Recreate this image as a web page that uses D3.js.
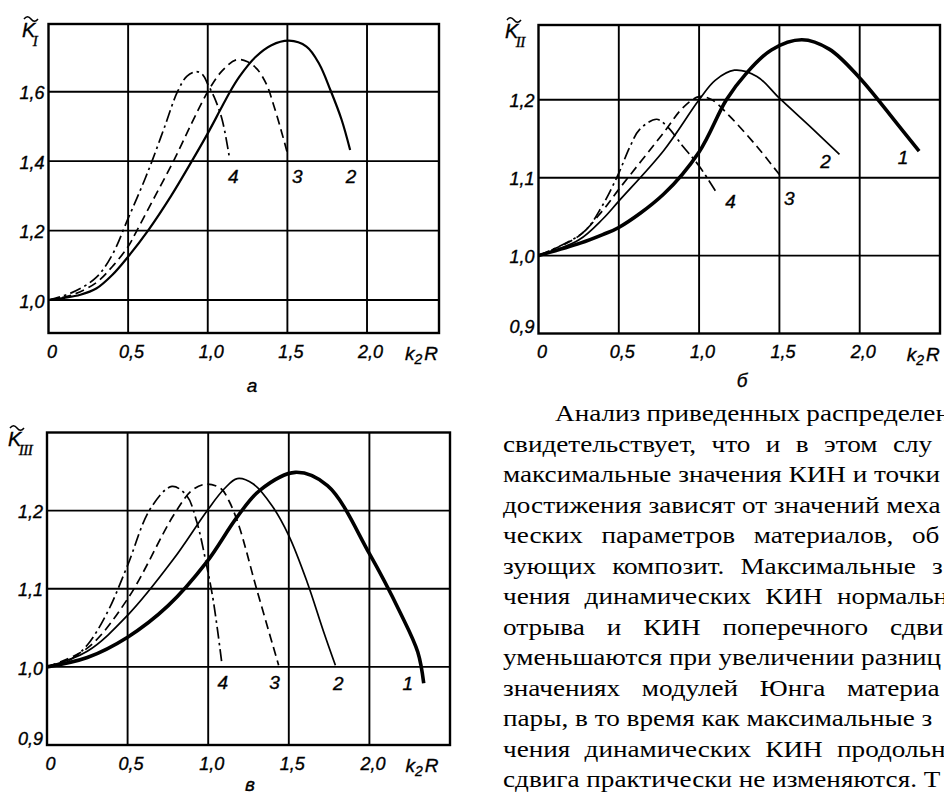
<!DOCTYPE html>
<html>
<head>
<meta charset="utf-8">
<script src="https://cdn.jsdelivr.net/npm/d3@7/dist/d3.min.js"></script>
<style>
  html, body { margin: 0; padding: 0; background: #fff; }
  svg { display: block; }
</style>
</head>
<body>
<svg id="page" width="944" height="794"></svg>
<script>
// ---------- shared axis data ----------
const xTicks = [0, 0.5, 1.0, 1.5, 2.0];
const xTickLabels = ["0", "0,5", "1,0", "1,5", "2,0"];

// ---------- panel а : K_I versus k2R ----------
const kI_yTicks = [1.0, 1.2, 1.4, 1.6];
const kI_yLabels = ["1,0", "1,2", "1,4", "1,6"];
const kI_curve2 = [[0,1.0],[0.1,1.006],[0.2,1.015],[0.3,1.033],[0.4,1.072],[0.5,1.125],[0.625,1.2],[0.77,1.3],[0.9,1.4],[1.0,1.48],[1.078,1.547],[1.14,1.6],[1.2,1.644],[1.3,1.70],[1.4,1.734],[1.51,1.747],[1.62,1.73],[1.7,1.68],[1.77,1.605],[1.84,1.52],[1.894,1.432]];
const kI_curve3 = [[0,1.0],[0.15,1.015],[0.3,1.05],[0.4,1.096],[0.5,1.154],[0.555,1.2],[0.67,1.3],[0.785,1.4],[0.9,1.51],[1.0,1.6],[1.09,1.66],[1.18,1.692],[1.25,1.686],[1.31,1.665],[1.37,1.62],[1.41,1.567],[1.46,1.49],[1.5,1.423]];
const kI_curve4 = [[0,1.0],[0.15,1.022],[0.3,1.065],[0.4,1.13],[0.5,1.235],[0.58,1.32],[0.65,1.4],[0.73,1.5],[0.81,1.6],[0.87,1.645],[0.93,1.658],[0.97,1.648],[1.0,1.622],[1.04,1.585],[1.09,1.52],[1.135,1.413]];

// ---------- panel б : K_II versus k2R ----------
const kII_yTicks = [0.9, 1.0, 1.1, 1.2];
const kII_yLabels = ["0,9", "1,0", "1,1", "1,2"];
const kII_curve1 = [[0,1.0],[0.26,1.016],[0.4,1.027],[0.5,1.036],[0.78,1.079],[1.0,1.133],[1.17,1.2],[1.29,1.233],[1.45,1.264],[1.64,1.277],[1.81,1.265],[2.0,1.228],[2.23,1.17],[2.37,1.134]];
const kII_curve2 = [[0,1.0],[0.25,1.02],[0.4,1.047],[0.5,1.07],[0.78,1.135],[1.0,1.2],[1.1,1.225],[1.22,1.238],[1.36,1.23],[1.5,1.202],[1.71,1.162],[1.874,1.13]];
const kII_curve3 = [[0,1.0],[0.25,1.025],[0.4,1.058],[0.5,1.085],[0.78,1.158],[0.9,1.19],[1.0,1.204],[1.08,1.2],[1.19,1.179],[1.36,1.14],[1.5,1.104]];
const kII_curve4 = [[0,1.0],[0.28,1.03],[0.4,1.065],[0.5,1.106],[0.57,1.14],[0.63,1.162],[0.735,1.175],[0.8,1.166],[0.9,1.14],[1.0,1.115],[1.108,1.081]];

// ---------- panel в : K_III versus k2R ----------
const kIII_yTicks = [0.9, 1.0, 1.1, 1.2];
const kIII_yLabels = ["0,9", "1,0", "1,1", "1,2"];
const kIII_curve1 = [[0,1.0],[0.25,1.012],[0.5,1.038],[0.75,1.078],[0.99,1.134],[1.18,1.192],[1.32,1.226],[1.54,1.249],[1.74,1.232],[2.0,1.145],[2.19,1.07],[2.3,1.019],[2.337,0.979]];
const kIII_curve2 = [[0,1.0],[0.25,1.02],[0.5,1.066],[0.785,1.138],[0.99,1.199],[1.1,1.228],[1.18,1.241],[1.28,1.234],[1.4,1.205],[1.5,1.168],[1.613,1.109],[1.716,1.045],[1.789,1.002]];
const kIII_curve3 = [[0,1.0],[0.25,1.024],[0.5,1.087],[0.785,1.194],[0.9,1.226],[0.99,1.234],[1.08,1.228],[1.13,1.212],[1.19,1.181],[1.3,1.1],[1.437,1.002]];
const kIII_curve4 = [[0,1.0],[0.15,1.01],[0.25,1.028],[0.375,1.07],[0.5,1.13],[0.64,1.202],[0.775,1.231],[0.867,1.219],[0.93,1.185],[0.99,1.13],[1.033,1.083],[1.085,1.004]];

// ---------- body text (lines as printed) ----------
const paragraphLines = [
  ["Анализ", "приведенных", "распределен"],
  ["свидетельствует,", "что", "и", "в", "этом", "слу"],
  ["максимальные значения КИН и точки"],
  ["достижения зависят от значений меха"],
  ["ческих", "параметров", "материалов,", "об"],
  ["зующих", "композит.", "Максимальные", "з"],
  ["чения", "динамических", "КИН", "нормальн"],
  ["отрыва", "и", "КИН", "поперечного", "сдви"],
  ["уменьшаются при увеличении разниц"],
  ["значениях", "модулей", "Юнга", "материа"],
  ["пары, в то время как максимальные з"],
  ["чения", "динамических", "КИН", "продольн"],
  ["сдвига практически не изменяются. Т"]
];

// ---------- drawing styles ----------
const curveStyle = {
  "1": { width: 3.6, dash: null },
  "2": { width: 1.7, dash: null },
  "3": { width: 1.7, dash: "9,5" },
  "4": { width: 1.7, dash: "12,4,2.5,4" }
};
const drawFont = "'Liberation Sans', Arial, sans-serif";
const serifFont = "'Liberation Serif', 'Times New Roman', serif";

const svg = d3.select("#page");

// drafting-style lettering: italic with slightly heavier strokes
function drafting(sel, size) {
  return sel.attr("font-family", drawFont).attr("font-style", "italic")
    .attr("font-size", size).attr("fill", "#000")
    .attr("stroke", "#000").attr("stroke-width", 0.35);
}

function drawPanel(cfg) {
  const x = d3.scaleLinear().domain(cfg.xDomain).range([cfg.box.l, cfg.box.r]);
  const y = d3.scaleLinear().domain(cfg.yDomain).range([cfg.box.b, cfg.box.t]);
  const g = svg.append("g");

  // grid
  g.append("g").selectAll("line").data(xTicks.slice(1)).join("line")
    .attr("x1", d => x(d)).attr("x2", d => x(d))
    .attr("y1", cfg.box.t).attr("y2", cfg.box.b)
    .attr("stroke", "#000").attr("stroke-width", 1.9);
  g.append("g").selectAll("line").data(cfg.yTicks.filter(v => y(v) < cfg.box.b - 3)).join("line")
    .attr("x1", cfg.box.l).attr("x2", cfg.box.r)
    .attr("y1", d => y(d)).attr("y2", d => y(d))
    .attr("stroke", "#000").attr("stroke-width", 1.9);

  // frame
  g.append("rect")
    .attr("x", cfg.box.l).attr("y", cfg.box.t)
    .attr("width", cfg.box.r - cfg.box.l).attr("height", cfg.box.b - cfg.box.t)
    .attr("fill", "none").attr("stroke", "#000").attr("stroke-width", 2.4);

  // x tick labels through a d3 axis with its lines removed
  const xAxis = d3.axisBottom(x).tickValues(xTicks)
    .tickFormat((d, i) => xTickLabels[i]).tickSize(0).tickPadding(0);
  const xa = g.append("g").attr("transform", `translate(3,${cfg.box.b + 12})`).call(xAxis);
  xa.select(".domain").remove();
  drafting(xa.selectAll("text"), 18).attr("dy", "0.71em");

  // y tick labels
  const yAxis = d3.axisLeft(y).tickValues(cfg.yTicks)
    .tickFormat((d, i) => cfg.yLabels[i]).tickSize(0).tickPadding(0);
  const ya = g.append("g").attr("transform", `translate(${cfg.box.l - 4},0)`).call(yAxis);
  ya.select(".domain").remove();
  drafting(ya.selectAll("text"), 18)
    .attr("dy", d => (y(d) > cfg.box.b - 4 ? "-0.05em" : "0.4em"));

  // x axis name k2R
  const xn = drafting(g.append("text"), 19).attr("x", x(2.0) + cfg.k2rDx).attr("y", cfg.box.b + 27);
  xn.append("tspan").text("k");
  xn.append("tspan").attr("font-size", 14).attr("dy", 4).text("2");
  xn.append("tspan").attr("dy", -4).attr("dx", 2).text("R");

  // y axis name: K with a tilde and a roman-numeral subscript
  const t = cfg.title;
  const kt = drafting(g.append("text"), 20).attr("x", t.x).attr("y", t.y);
  kt.append("tspan").text("K");
  kt.append("tspan").attr("dx", -2.5).attr("dy", 9)
    .attr("font-family", serifFont).attr("font-size", 15).attr("letter-spacing", -0.5).text(t.sub);
  g.append("path")
    .attr("d", `M${t.x + 2},${t.y - 18} q3.5,-4.5 7,0 t7,0`)
    .attr("fill", "none").attr("stroke", "#000").attr("stroke-width", 1.5);

  // panel letter
  drafting(g.append("text"), 19).attr("x", cfg.letter.x).attr("y", cfg.letter.y)
    .attr("text-anchor", "middle").text(cfg.letter.text);

  // curves
  const line = d3.line().x(d => x(d[0])).y(d => y(d[1])).curve(d3.curveCatmullRom.alpha(0.5));
  cfg.series.forEach(s => {
    const st = curveStyle[s.name];
    g.append("path").datum(s.values).attr("d", line)
      .attr("fill", "none").attr("stroke", "#000")
      .attr("stroke-width", s.width || st.width)
      .attr("stroke-linecap", "butt").attr("stroke-linejoin", "round")
      .attr("stroke-dasharray", st.dash);
    const end = s.values[s.values.length - 1];
    drafting(g.append("text"), 19)
      .attr("x", x(end[0]) + s.label[0]).attr("y", y(end[1]) + s.label[1])
      .attr("text-anchor", "middle").attr("dy", "0.35em")
      .text(s.name);
  });
}

drawPanel({
  box: { l: 48.5, r: 439, t: 24, b: 333 },
  xDomain: [0, 2.452], yDomain: [0.905, 1.795],
  yTicks: kI_yTicks, yLabels: kI_yLabels,
  k2rDx: 38,
  title: { x: 22, y: 37, sub: "I" },
  letter: { x: 252, y: 392, text: "а" },
  series: [
    { name: "2", values: kI_curve2, width: 2.2, label: [1, 26] },
    { name: "3", values: kI_curve3, label: [10, 23] },
    { name: "4", values: kI_curve4, label: [4, 20] }
  ]
});

drawPanel({
  box: { l: 538.5, r: 940, t: 25, b: 333.5 },
  xDomain: [0, 2.5], yDomain: [0.9, 1.296],
  yTicks: kII_yTicks, yLabels: kII_yLabels,
  k2rDx: 47,
  title: { x: 505, y: 38, sub: "II" },
  letter: { x: 742, y: 387, text: "б" },
  series: [
    { name: "1", values: kII_curve1, label: [-16, 6] },
    { name: "2", values: kII_curve2, label: [-14, 7] },
    { name: "3", values: kII_curve3, label: [10, 24] },
    { name: "4", values: kII_curve4, label: [14, 9] }
  ]
});

drawPanel({
  box: { l: 47, r: 450, t: 432.5, b: 745 },
  xDomain: [0, 2.5], yDomain: [0.9, 1.3],
  yTicks: kIII_yTicks, yLabels: kIII_yLabels,
  k2rDx: 36,
  title: { x: 8, y: 446, sub: "III" },
  letter: { x: 250, y: 791, text: "в" },
  series: [
    { name: "1", values: kIII_curve1, label: [-16, 0] },
    { name: "2", values: kIII_curve2, label: [3, 18] },
    { name: "3", values: kIII_curve3, label: [-4, 17] },
    { name: "4", values: kIII_curve4, label: [1, 19] }
  ]
});

// ---------- body text ----------
// Each printed line is placed on its own. Justified lines spread their words so that
// the last visible word starts (justifyTo) or ends (justifyEnd) where the page has it.
const justifyTo  = [null, 893, null, null, 912, 932, 837, 890, null, 847, null, 837, null];
const justifyEnd = [950, null, null, null, null, null, null, null, null, null, null, null, null];
const textG = svg.append("g").attr("font-family", serifFont).attr("font-size", 23.5).attr("fill", "#000");

// horizontal stretch of the typeface, from the width of a plainly spaced line
const probe = textG.append("text").text(paragraphLines[2][0]);
const stretch = 437 / probe.node().getComputedTextLength();
probe.remove();

paragraphLines.forEach((words, i) => {
  const x0 = i === 0 ? 555 : 503;
  const yb = 421 + i * 30.5;
  const lg = textG.append("g").attr("transform", `translate(${x0},${yb}) scale(${stretch},1)`);
  if (words.length === 1 || (justifyTo[i] === null && justifyEnd[i] === null)) {
    lg.append("text").attr("x", 0).attr("y", 0).text(words.join(" "));
    return;
  }
  const nodes = words.map(w => lg.append("text").attr("y", 0).text(w));
  const widths = nodes.map(n => n.node().getComputedTextLength());
  const used = d3.sum(widths.slice(0, -1));
  const lastStart = justifyTo[i] !== null
    ? (justifyTo[i] - x0) / stretch
    : (justifyEnd[i] - x0) / stretch - widths[widths.length - 1];
  const gap = (lastStart - used) / (words.length - 1);
  let cx = 0;
  nodes.forEach((n, k) => { n.attr("x", cx); cx += widths[k] + gap; });
});
</script>
</body>
</html>
